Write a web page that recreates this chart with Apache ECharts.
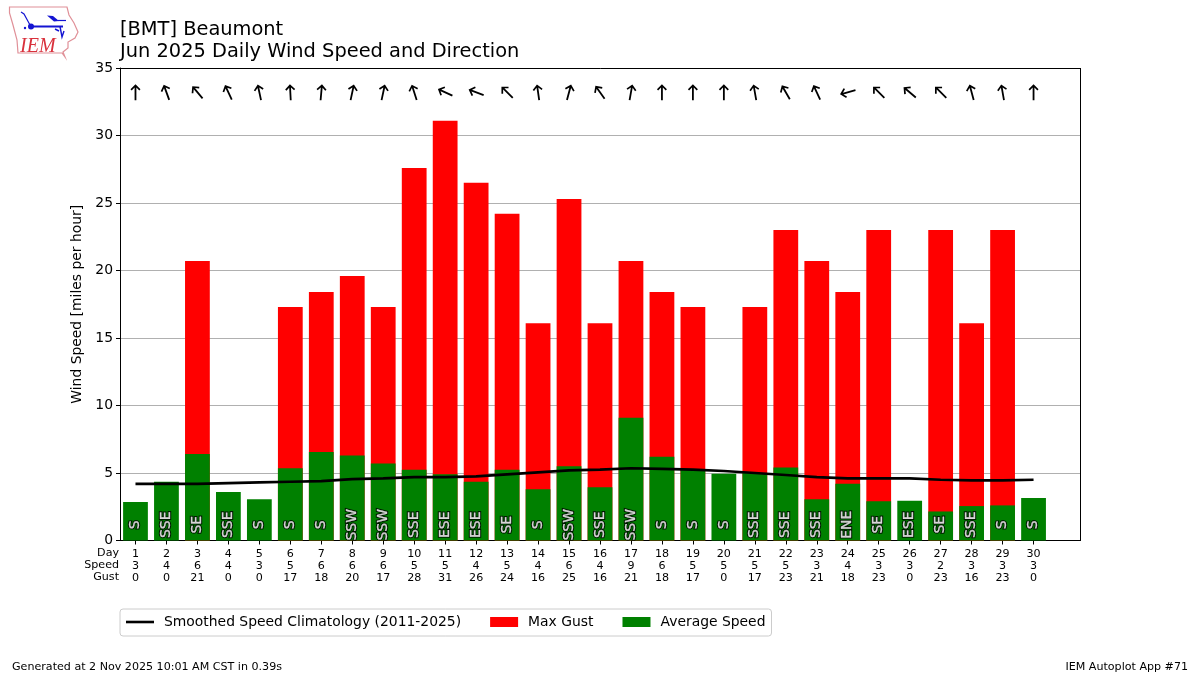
<!DOCTYPE html>
<html><head><meta charset="utf-8">
<style>html,body{margin:0;padding:0;background:#fff}#c{width:1200px;height:675px}</style>
<script src="https://cdn.jsdelivr.net/npm/echarts@6/dist/echarts.min.js"></script>
</head><body><div id="c"></div>
<script>
const days=[1,2,3,4,5,6,7,8,9,10,11,12,13,14,15,16,17,18,19,20,21,22,23,24,25,26,27,28,29,30];
const speedLabels=[3,4,6,4,3,5,6,6,6,5,5,4,5,4,6,4,9,6,5,5,5,5,3,4,3,3,2,3,3,3];
const gustLabels=[0,0,21,0,0,17,18,20,17,28,31,26,24,16,25,16,21,18,17,0,17,23,21,18,23,0,23,16,23,0];
const avgSpeed=[2.85,4.35,6.4,3.6,3.05,5.35,6.55,6.3,5.7,5.25,4.9,4.35,5.25,3.8,5.5,3.95,9.1,6.2,5.3,4.95,5.0,5.4,3.05,4.2,2.9,2.95,2.15,2.55,2.6,3.15];
const maxGust=[0,0,20.7,0,0,17.3,18.4,19.6,17.3,27.6,31.1,26.5,24.2,16.1,25.3,16.1,20.7,18.4,17.3,0,17.3,23,20.7,18.4,23,0,23,16.1,23,0];
const climate=[4.2,4.2,4.2,4.25,4.3,4.35,4.4,4.55,4.6,4.7,4.7,4.75,4.9,5.05,5.2,5.25,5.35,5.3,5.25,5.15,5.0,4.85,4.7,4.6,4.6,4.6,4.5,4.45,4.45,4.5];
const dirLabels=['S','SSE','SE','SSE','S','S','S','SSW','SSW','SSE','ESE','ESE','SE','S','SSW','SSE','SSW','S','S','S','SSE','SSE','SSE','ENE','SE','ESE','SE','SSE','S','S'];
const arrowRot=[0,20,40,25,12,3,-5,-12,-12,18,65,70,45,8,-15,35,-10,0,0,0,10,30,25,105,45,50,45,15,10,0];
const ARROW_Y=33.2, LABEL_Y=1.17;
const F='"DejaVu Sans"';
const tickLabels=days.map((d,i)=>d+'\n'+speedLabels[i]+'\n'+gustLabels[i]).concat(['']);
const arrowPath='path://M5 0 L10 5 L8.8 6.2 L5.9 3.3 L5.9 16 L4.1 16 L4.1 3.3 L1.2 6.2 L0 5 Z';
const chart=echarts.init(document.getElementById('c'),null,{renderer:'canvas'});
const red='#d9313c', blue='#1414d2';
const dirData=dirLabels.map((t,i)=>({value:[i,LABEL_Y],name:t}));
const dirLabelBase={show:true,position:'inside',rotate:90,formatter:p=>p.name,fontFamily:F,fontSize:14};
chart.setOption({
 animation:false,backgroundColor:'#fff',textStyle:{fontFamily:F},
 title:{text:'[BMT] Beaumont\nJun 2025 Daily Wind Speed and Direction',left:120,top:19,padding:0,
   textStyle:{fontFamily:F,fontWeight:'normal',fontSize:19.4,lineHeight:22,color:'#000'}},
 grid:{left:120,right:120,top:68,bottom:134.5,show:false},
 legend:{left:120,top:609,padding:[6,6,7,6],itemWidth:28,itemHeight:10,itemGap:29,
   borderColor:'#ccc',borderWidth:1,borderRadius:3,
   textStyle:{fontFamily:F,fontSize:13.9,color:'#000',padding:[0,0,0,5]},
   data:[{name:'Smoothed Speed Climatology (2011-2025)',icon:'path://M0 0H28V2.6H0Z'},{name:'Max Gust',icon:'rect'},{name:'Average Speed',icon:'rect'}]},
 xAxis:{type:'category',data:tickLabels,boundaryGap:true,
   axisLine:{show:true,lineStyle:{color:'#000'}},
   axisTick:{show:true,alignWithLabel:true,length:4,lineStyle:{color:'#000'},interval:(i)=>i<30},
   axisLabel:{interval:0,fontFamily:F,fontSize:11.1,lineHeight:12,color:'#000',margin:8,hideOverlap:false},
   splitLine:{show:false}},
 yAxis:{type:'value',min:0,max:35,interval:5,name:'Wind Speed [miles per hour]',nameLocation:'middle',nameGap:28,
   nameTextStyle:{fontFamily:F,fontSize:13.9,color:'#000'},
   axisLine:{show:true,lineStyle:{color:'#000'}},axisTick:{show:true,length:4,lineStyle:{color:'#000'}},
   axisLabel:{fontFamily:F,fontSize:13.9,color:'#000',margin:7,padding:[2,0,0,0]},
   splitLine:{show:true,lineStyle:{color:'#b0b0b0',width:1}}},
 series:[
  {name:'Max Gust',type:'bar',data:maxGust,barWidth:'80%',barGap:'-100%',itemStyle:{color:'#ff0000'},z:2},
  {name:'Average Speed',type:'bar',data:avgSpeed,barWidth:'80%',barGap:'-100%',itemStyle:{color:'#008000'},z:3},
  {name:'Smoothed Speed Climatology (2011-2025)',type:'line',data:climate,symbol:'none',smooth:false,
    lineStyle:{color:'#000',width:2.7},itemStyle:{color:'#000'},z:4},
  {name:'dirOutline',type:'scatter',symbolSize:0,silent:true,z:5,data:dirData,
    label:Object.assign({},dirLabelBase,{color:'#000',textBorderColor:'#000',textBorderWidth:2.4})},
  {name:'dirFill',type:'scatter',symbolSize:0,silent:true,z:6,data:dirData,
    label:Object.assign({},dirLabelBase,{color:'#fff',textBorderColor:'#fff',textBorderWidth:0.3})},
  {name:'arrows',type:'scatter',silent:true,z:5,symbol:arrowPath,symbolSize:[10,16],
    itemStyle:{color:'#000',opacity:1},
    data:arrowRot.map((r,i)=>({value:[i,ARROW_Y],symbolRotate:r}))}
 ],
 graphic:[
  {type:'line',z:10,shape:{x1:120,y1:68.5,x2:1081,y2:68.5},style:{stroke:'#000',lineWidth:1}},
  {type:'line',z:10,shape:{x1:1080.5,y1:68,x2:1080.5,y2:541},style:{stroke:'#000',lineWidth:1}},
  {type:'text',x:119,y:547.5,style:{text:'Day',align:'right',font:'11.1px '+F,fill:'#000'}},
  {type:'text',x:119,y:559.5,style:{text:'Speed',align:'right',font:'11.1px '+F,fill:'#000'}},
  {type:'text',x:119,y:571.5,style:{text:'Gust',align:'right',font:'11.1px '+F,fill:'#000'}},
  {type:'text',x:12,y:661.5,style:{text:'Generated at 2 Nov 2025 10:01 AM CST in 0.39s',font:'11.1px '+F,fill:'#000'}},
  {type:'text',x:1188,y:661.5,style:{text:'IEM Autoplot App #71',align:'right',font:'11.1px '+F,fill:'#000'}},
  {type:'polygon',shape:{points:[[9.5,7],[67,7],[69,15],[74,23],[78,32],[75,38],[68,42],[68,48],[63,52],[65,57],[62,53],[18,53],[17,40],[13,25],[9.5,13]]},
    style:{fill:'#fff',stroke:'#e09098',lineWidth:1.2}},
  {type:'line',shape:{x1:30,y1:26.5,x2:63,y2:26.5},style:{stroke:blue,lineWidth:2}},
  {type:'circle',shape:{cx:31,cy:26.5,r:3},style:{fill:blue}},
  {type:'polyline',shape:{points:[[30,25],[24,14],[21,12]]},style:{stroke:blue,lineWidth:1.2,fill:'none'}},
  {type:'polygon',shape:{points:[[47,15.5],[53,16],[59,21],[54,21.5]]},style:{fill:blue}},
  {type:'polyline',shape:{points:[[58,20.5],[66,20.5]]},style:{stroke:blue,lineWidth:1.2,fill:'none'}},
  {type:'polyline',shape:{points:[[60,26.5],[62,37],[64,31]]},style:{stroke:blue,lineWidth:1.4,fill:'none'}},
  {type:'polyline',shape:{points:[[55,29],[59,31]]},style:{stroke:blue,lineWidth:1.4,fill:'none'}},
  {type:'circle',shape:{cx:25,cy:28,r:1.2},style:{fill:blue}},
  {type:'text',x:20,y:36.5,style:{text:'IEM',font:'italic 20px "Liberation Serif"',fill:red}}
 ]
});
</script></body></html>
